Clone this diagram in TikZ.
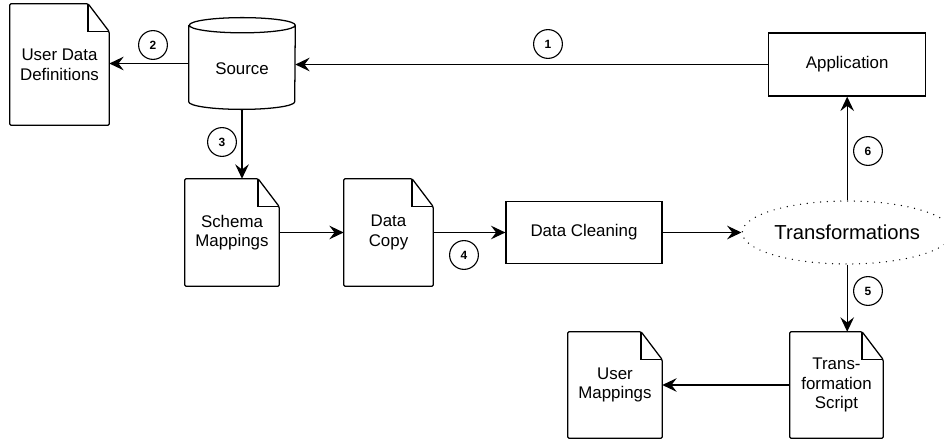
\documentclass[tikz,border=0pt]{standalone}
\usepackage{fontspec}
\setmainfont{Liberation Sans}
\usepackage{tikz}
\usetikzlibrary{positioning,arrows.meta,shapes.geometric}

\begin{document}
\begin{tikzpicture}[font=\fontsize{12}{14}\selectfont,
  box/.style={draw,line width=0.9pt,minimum width=3.9cm,minimum height=1.55cm},
  doc/.style={minimum width=2.35cm,minimum height=2.65cm,align=center,inner sep=0pt},
  store/.style={minimum width=2.65cm,minimum height=1.9cm,text height=16pt,inner sep=0pt},
  cloud/.style={ellipse,draw,line width=1pt,dash pattern=on 0pt off 4.8pt,line cap=round,
    minimum width=5.25cm,minimum height=1.575cm,inner sep=0pt,font=\fontsize{14.4}{16}\selectfont},
  num/.style={circle,draw,line width=0.8pt,minimum size=0.72cm,inner sep=0pt,font=\fontsize{8.5}{9}\selectfont\bfseries},
  flow/.style={-{Stealth[length=3.6mm,width=3.4mm,inset=1.3mm]},line width=0.9pt},
]
\useasboundingbox (0,0) rectangle (23.6,-11);

\node[doc,minimum width=2.475cm,minimum height=3.025cm] (udd) at (1.4875,-1.6125) {User Data\\Definitions};
\node[store] (source) at (6.05,-1.5875) {Source};
\node[box,minimum width=3.925cm,minimum height=1.575cm] (app) at (21.18,-1.6125) {Application};
\node[doc,minimum height=2.675cm] (schema) at (5.8,-5.8125) {Schema\\Mappings};
\node[doc,minimum width=2.225cm,minimum height=2.675cm] (copy) at (9.7125,-5.8125) {Data\\Copy};
\node[box] (clean) at (14.6,-5.8125) {Data Cleaning};
\node[cloud] (trans) at (21.18,-5.8125) {Transformations};
\node[doc,minimum width=2.325cm] (script) at (20.9125,-9.625) {Trans-\\formation\\Script};
\node[doc] (umap) at (15.375,-9.625) {User\\Mappings};

% cylinder outline round the source node
\draw[line width=0.9pt] (source.north west) -- (source.south west)
  arc[start angle=180,end angle=360,x radius=1.325cm,y radius=0.19cm] -- (source.north east)
  arc[start angle=0,end angle=360,x radius=1.325cm,y radius=0.19cm];

% page outline with folded corner
\foreach \d in {udd,schema,copy,script,umap}{
  \draw[line width=0.9pt,rounded corners=1pt] (\d.south west) -- (\d.north west) -- ([xshift=-5.3mm]\d.north east)
    -- ([yshift=-7mm]\d.north east) -- (\d.south east) -- cycle;
  \draw[line width=0.9pt] ([xshift=-5.3mm]\d.north east) |- ([yshift=-7mm]\d.north east);
}

\draw[flow] (app.west) -- (app.west -| source.east);
\draw[flow] (source.west) -- (source.west -| udd.east);
\draw[flow] ([yshift=-0.19cm]source.south) -- (source.south |- schema.north);
\draw[flow] (schema.east) -- (copy.west);
\draw[flow] (copy.east) -- (clean.west);
\draw[flow] (clean.east) -- (trans.west);
\draw[flow] (trans.south) -- (trans.south |- script.north);
\draw[flow] (trans.north) -- (app.south);
\draw[flow] (script.west) -- (umap.east);

\node[num] (n1) at (13.7,-1.1) {1};
\node[num] (n2) at (3.825,-1.125) {2};
\node[num] (n3) at (5.55,-3.55) {3};
\node[num] (n4) at (11.6,-6.375) {4};
\node[num] (n5) at (21.7,-7.275) {5};
\node[num] (n6) at (21.7,-3.775) {6};
\end{tikzpicture}
\end{document}
